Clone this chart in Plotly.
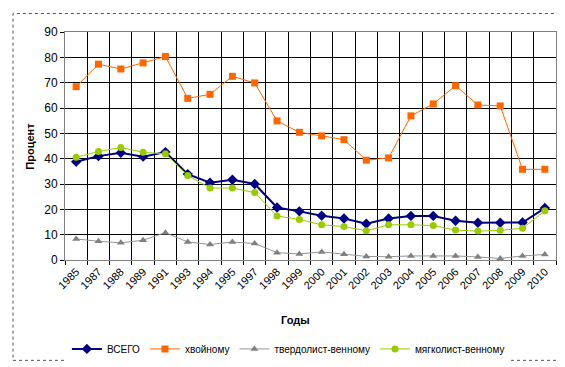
import plotly.graph_objects as go

years = ["1985", "1987", "1988", "1989", "1991", "1993", "1994", "1995", "1997", "1998", "1999",
         "2000", "2001", "2002", "2003", "2004", "2005", "2006", "2007", "2008", "2009", "2010"]

vsego = [38.8, 41.0, 42.3, 40.8, 42.6, 33.9, 30.5, 31.7, 30.0, 20.7, 19.2,
         17.5, 16.4, 14.3, 16.4, 17.4, 17.4, 15.5, 14.7, 14.7, 14.8, 20.5]
hvoinomu = [68.4, 77.3, 75.4, 77.8, 80.3, 63.8, 65.4, 72.5, 69.9, 54.9, 50.4,
            49.0, 47.5, 39.4, 40.3, 56.9, 61.6, 68.8, 61.2, 60.8, 35.8, 35.8]
tverdolist = [8.3, 7.4, 6.8, 7.8, 10.8, 7.1, 6.1, 7.1, 6.5, 2.9, 2.4,
              3.2, 2.3, 1.4, 1.3, 1.6, 1.6, 1.6, 1.2, 0.6, 1.6, 2.2]
myagkolist = [40.6, 42.8, 44.4, 42.5, 41.9, 33.4, 28.4, 28.4, 26.6, 17.4, 16.0,
              13.9, 13.2, 11.5, 13.9, 13.9, 13.6, 11.8, 11.4, 11.7, 12.5, 19.4]

y_ticks = [0, 10, 20, 30, 40, 50, 60, 70, 80, 90]

fig = go.Figure()
fig.add_trace(go.Scatter(x=years, y=vsego, name="ВСЕГО", mode="lines+markers",
                         line=dict(color="#000080", width=2),
                         marker=dict(symbol="diamond", size=8, color="#000080")))
fig.add_trace(go.Scatter(x=years, y=hvoinomu, name="хвойному", mode="lines+markers",
                         line=dict(color="#FF6600", width=1),
                         marker=dict(symbol="square", size=7, color="#FF6600")))
fig.add_trace(go.Scatter(x=years, y=tverdolist, name="твердолист-венному", mode="lines+markers",
                         line=dict(color="#969696", width=1),
                         marker=dict(symbol="triangle-up", size=7, color="#808080")))
fig.add_trace(go.Scatter(x=years, y=myagkolist, name="мягколист-венному", mode="lines+markers",
                         line=dict(color="#99CC00", width=1),
                         marker=dict(symbol="circle", size=7, color="#99CC00")))

fig.update_layout(
    width=565, height=367,
    margin=dict(l=57, r=17, t=24, b=109),
    paper_bgcolor="white", plot_bgcolor="white",
    font=dict(family="Liberation Sans, Arial", size=11, color="black"),
    showlegend=True,
    legend=dict(orientation="h", x=0.455, xanchor="center", y=-0.39, yanchor="middle",
                font=dict(size=10), itemwidth=30, tracegroupgap=0),
    xaxis=dict(type="category", tickson="boundaries", showgrid=True, gridcolor="black",
               gridwidth=1, tickangle=-45, ticks="outside", ticklen=4, tickcolor="black",
               showline=True, linecolor="#808080", mirror=True, range=[-0.5, 21.5],
               tickfont=dict(size=11)),
    yaxis=dict(range=[0, 90], tickvals=y_ticks, showgrid=True, gridcolor="black", gridwidth=1,
               ticks="outside", ticklen=4, tickcolor="black", showline=True,
               linecolor="#808080", mirror=True, zeroline=False, tickfont=dict(size=12)),
    annotations=[
        dict(text="<b>Процент</b>", xref="paper", yref="paper", x=-0.072, y=0.5,
             xanchor="center", yanchor="middle", textangle=-90, showarrow=False,
             font=dict(size=11)),
        dict(text="<b>Годы</b>", xref="paper", yref="paper", x=0.47, y=-0.265,
             xanchor="center", yanchor="middle", showarrow=False, font=dict(size=11)),
    ],
    shapes=[dict(type="rect", xref="paper", yref="paper",
                 x0=(5 - 57) / 491, x1=(558 - 57) / 491,
                 y0=(258 - 361) / 234, y1=(258 - 5) / 234,
                 line=dict(color="#555555", width=1, dash="dot"))],
)

fig.write_html("out.html")
